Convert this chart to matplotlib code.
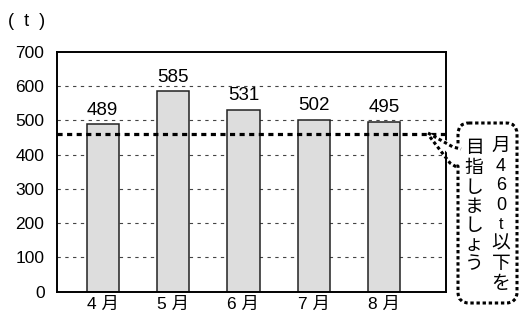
import matplotlib
matplotlib.use("Agg")
import matplotlib.pyplot as plt
from matplotlib.patches import FancyBboxPatch, Polygon

plt.rcParams['font.family'] = ['Liberation Sans', 'Noto Sans CJK JP', 'DejaVu Sans']

# data
months = ["4 月", "5 月", "6 月", "7 月", "8 月"]
amounts = [489, 585, 531, 502, 495]
target = 460
yticks = [0, 100, 200, 300, 400, 500, 600, 700]
note_right = list("月460t以下を")
note_left = list("目指しましょう")

fig = plt.figure(figsize=(5.21, 3.22), dpi=100)
ax = fig.add_axes([57/521, 1 - 291.7/322, 389/521, 240/322])

x = range(len(months))
ax.bar(x, amounts, width=0.46, color="#dddddd", edgecolor="#222222", linewidth=1.1, zorder=3)
for xi, v in zip(x, amounts):
    ax.text(xi, v + 16, str(v), ha="center", va="bottom", fontsize=13.5, zorder=4)

# grid lines
for t in yticks[1:-1]:
    ax.axhline(t, color="#444444", lw=0.8, ls=(0, (3, 4)), zorder=1)

ax.axhline(target, color="black", lw=2.3, ls=(0, (1.6, 1.4)), zorder=5)

ax.set_xlim(-0.65, 4.88)
ax.set_ylim(0, 700)
ax.set_yticks(yticks)
ax.set_xticks(list(x))
ax.set_xticklabels(months, fontsize=12.5)
ax.tick_params(length=0, labelsize=12.5)
ax.tick_params(axis="y", pad=9)
ax.tick_params(axis="x", pad=4)
for s in ax.spines.values():
    s.set_linewidth(1.4)
    s.set_zorder(6)

fig.text(8/521, 1 - 22/322, "(  t  )", fontsize=13, va="center", ha="left")

# callout bubble in pixel coordinates
ov = fig.add_axes([0, 0, 1, 1])
ov.set_xlim(0, 521)
ov.set_ylim(322, 0)
ov.axis("off")
dot = (0, (1.1, 0.9))
box = FancyBboxPatch((458, 123), 59, 180, boxstyle="round,pad=0,rounding_size=11",
                     facecolor="white", edgecolor="black", lw=2.2, ls=dot, zorder=2)
ov.add_patch(box)
ov.add_patch(Polygon([(460, 146), (428, 133), (460, 166)], closed=True,
                     facecolor="white", edgecolor="none", zorder=3))
ov.plot([428, 453, 461], [133, 147, 149], color="black", lw=2.2, ls=dot, zorder=4)
ov.plot([430, 450, 458], [137, 163, 168], color="black", lw=2.2, ls=dot, zorder=4)

right_y = [146, 166, 185, 205, 224, 244, 264, 285]
left_y = [148, 168, 188, 207, 226, 245, 265]
for ch, yy in zip(note_right, right_y):
    fs = 13 if ch.isdigit() else (11.5 if ch.isascii() else 13.5)
    ov.text(501, yy, ch, ha="center", va="center", fontsize=fs, zorder=5)
for ch, yy in zip(note_left, left_y):
    ov.text(474, yy, ch, ha="center", va="center", fontsize=13.5, zorder=5)

fig.savefig("out.png", dpi=100)
